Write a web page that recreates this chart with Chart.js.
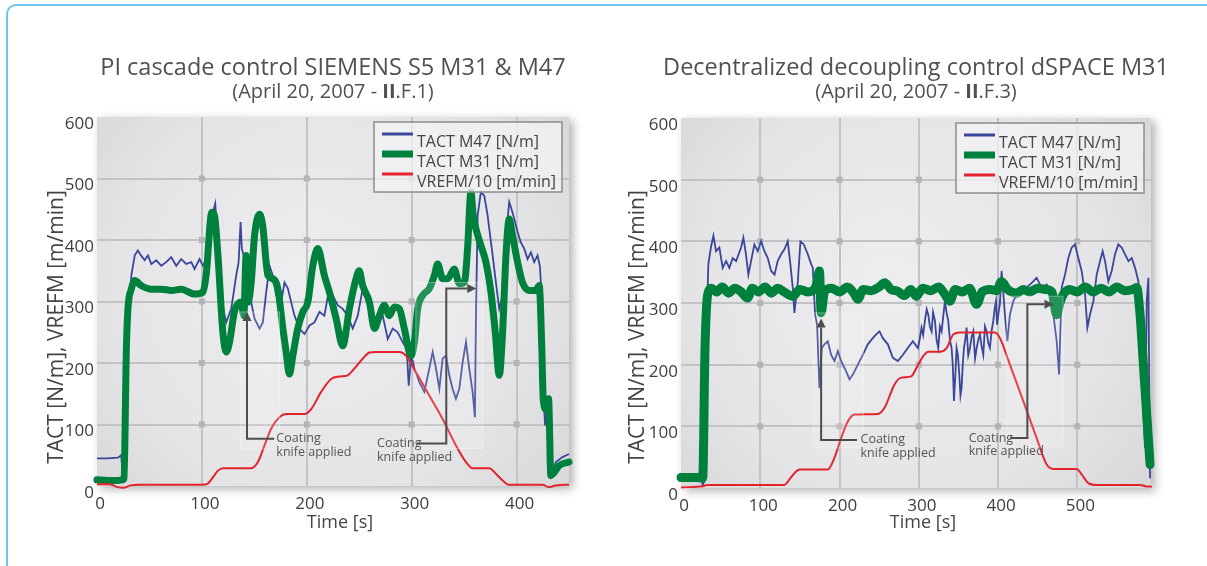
<!DOCTYPE html>
<html>
<head>
<meta charset="utf-8">
<script src="https://cdn.jsdelivr.net/npm/chart.js@4.4.1/dist/chart.umd.min.js"></script>
<style>
  html, body { margin: 0; padding: 0; background: #fff; }
  body { width: 1207px; height: 566px; position: relative; overflow: hidden; }
  #frame { position: absolute; left: 6px; top: 4px; width: 1240px; height: 620px;
           border: 2px solid #6cc8f0; border-radius: 10px; }
  canvas { position: absolute; top: 0; }
  #left { left: 0; }
  #right { left: 600px; }
</style>
</head>
<body>
<div id="frame"></div>
<canvas id="left" width="600" height="566"></canvas>
<canvas id="right" width="607" height="566"></canvas>
<script>
// ---- left chart: PI cascade control (time in s, values in N/m or m/min /10)
const leftM47Time = [0,10,20,23,25,27,29.5,32.7,36,39,42,45.4,48.6,51.8,56.5,61.3,66,70.8,75.6,80.3,85.1,89.9,93,97.8,101,104.2,109,112.7,115.3,119,123.2,128,132.7,135,136.9,138.1,140.7,143.8,147,150.2,155,158.1,161.3,164.5,167.6,170.8,175.6,178.8,182,185.1,188.3,193,197.8,202.6,207.3,212.1,216.8,221.6,224.8,229.5,234.3,239,243.8,248.6,253.3,258.1,262.9,267.6,272.4,277.2,281.9,286.7,291.4,295.3,297.2,299.4,302.6,307.3,312.1,316.8,320,323.2,326.4,329.5,332.7,335.9,339,342.2,345.4,348.6,351.8,354.9,358.1,360.3,361.3,362.9,366,369.2,372.4,377.2,380.3,383.5,386.7,389.9,393,395.6,397.8,401,404.1,407.3,410.5,413.7,416.8,420,422.2,423.2,424.8,427.3,429.5,432.7,437.5,443.8,450];
const leftM47 = [45,45,46,50,12,15,223,342,375,383,375,367,375,361,367,358,364,372,358,369,361,364,353,369,358,369,434,459,396,299,266,288,342,364,429,386,369,310,299,272,256,266,315,358,342,310,299,331,321,299,277,256,247,261,266,283,277,323,310,294,288,277,256,277,321,310,277,261,277,239,256,250,234,223,163,212,191,169,153,191,218,191,158,207,212,180,158,142,158,201,234,191,153,112,277,440,478,472,440,375,331,288,310,407,462,448,434,413,396,386,369,380,364,375,358,331,169,98,136,17,39,47,52];

const leftM31Time = [0,10,20,24,25.7,28,29.5,32.7,36,42,52,61.3,71,80.3,93,101,104,109.5,112,115.3,120,123.2,126.4,131,137.5,140,142.2,144,147,150.2,155,158,163,167.6,172.4,177.2,180.3,183.5,186.7,191.4,196.2,201,205.7,210.5,216.8,221.6,228,234.3,240.6,247,250,253.3,259.7,264.5,269.2,274,278.7,283.5,288.3,293,299.4,302.6,305.7,310.5,316.8,321.6,324.8,329.5,334.3,340.6,345.4,350.2,353.3,356.5,358.7,361.3,366,370.8,375.6,379.7,383.5,386.7,389.9,393,396.2,401,405.7,412,418.4,421.6,424.1,425.4,428,430.5,432.7,435.9,440.6,450];
const leftM31 = [10,9,9,10,12,223,288,320,334,326,320,320,318,320,312,315,342,445,440,375,250,218,234,283,299,277,375,299,331,407,442,423,342,337,321,256,218,182,212,256,283,299,358,386,342,315,272,228,288,337,350,326,299,256,277,294,277,291,288,256,212,234,288,310,321,342,361,337,337,353,329,331,386,478,440,418,391,364,315,250,180,250,375,434,407,364,331,318,318,326,223,142,125,142,17,22,33,39];

const leftVrefTime = [0,12,18,25,32,40,100,105.7,110.5,115.3,120,147,153.4,159.7,166,174,180.3,197.8,204.2,213.7,223.2,231.2,239,245.4,253.3,259.7,266,288.3,294.6,304.1,316.8,329.5,342.2,351.8,358.1,374,380.3,386.7,393,424.8,431.1,437.5,450];
const leftVref = [3,3,-1,-3,1,2,2,4,14,25,29,29,39,66,93,112,117,117,125,153,174,178,180,191,207,217,218,218,212,185,147,109,66,39,29,29,20,9,2,2,-2,1,2];

// ---- right chart: decentralized decoupling control
const rightM47Time = [0,20,26,27.4,29,31.6,34.5,38,40.9,44.2,48.4,52.6,56.9,61,65.3,69.5,75.8,78.7,82,85,88.4,92.6,96.8,101,105.3,109.5,113.7,118,122,126.3,130.5,134.7,138,141,143.1,147.4,150.7,155,160,164.2,166.3,169.2,171.7,174.7,177.6,181,185.2,189.4,193.6,197.9,202,208.4,212.6,216.8,223.1,229.4,235.7,242,246.2,250.5,254.7,261,267.3,273.6,280,286.2,292.5,298.9,301,303.5,305.5,307.7,310,312,314,316.2,318,320.4,322.5,324.6,326.7,328.8,331,333,335,337.2,339.3,341.4,342.9,344.4,346,347.7,349.4,351.1,352.6,354,355.5,357,358.6,360.3,362.4,364.6,366.7,368.8,371,373,375.1,377.2,379.3,381.4,383.5,385.6,387.7,389.8,391.9,394,395.7,397.4,398.8,400.3,402.4,404.5,408.7,411.7,415,419.3,423.5,429.8,436.1,444.5,448.7,455,461.4,465.6,469.8,474,477,480.3,484.5,488.7,493,497.1,501.3,505.5,509.8,512.7,516,520.3,524.5,528.7,532,535,539.2,543.4,547.6,551.8,556,560.3,564.5,568.7,572.9,577.1,580,583.4,585.5,587.6,589.7,591.8];
const rightM47 = [16,16,14,5,10,227,363,392,409,384,390,357,368,357,373,368,390,406,379,346,368,395,384,400,384,373,352,346,368,379,387,400,363,325,284,335,400,395,379,363,357,281,265,162,227,233,238,216,206,222,206,189,176,184,200,216,233,243,249,254,243,233,211,206,216,227,238,227,240,260,248,271,290,281,262,254,285,271,240,227,262,254,280,303,285,271,240,227,200,141,180,227,215,184,150,162,200,227,240,260,215,227,245,254,210,227,240,249,230,216,262,254,235,227,255,271,290,303,265,281,300,352,281,238,281,303,314,319,325,335,341,325,330,314,281,238,184,325,346,373,390,395,373,352,314,260,281,303,346,368,384,368,335,352,379,395,390,379,368,373,357,335,227,119,65,303,341,16];

const rightM31Time = [0,10,20,26,27.4,30.3,33.7,38,45,52,60,68,76,84,90,98,106,114,122,130,141,150,160,168,172,174.7,176.8,181,190,200,210,218,223,230,240,250,257,265,273.6,282,290,297,305,315,325,332,339.3,346,355,364,373,380,390,398,404.5,412,423.5,432,440,450,460,468,474,478,482.4,490,500,510,520,530,540,550,560,570,575,579.2,583.4,587.6,591.8];
const rightM31 = [17,17,17,16,16,227,314,324,318,326,316,324,318,308,324,318,326,316,324,318,311,322,318,322,335,352,284,319,324,318,326,316,306,322,320,326,333,322,319,312,322,311,324,320,326,316,303,322,318,324,298,318,322,320,335,322,316,322,318,324,322,318,281,300,314,322,318,326,318,324,318,326,320,322,325,281,200,119,38];

const rightVrefTime = [0,27.4,33.7,130.5,136.8,143.1,149.5,185.2,193.6,202,210.5,218.9,248.4,256.8,269.4,277.8,290.4,297.2,305.6,311.9,326.7,335.1,343.5,351.9,396.1,402.4,415,431.9,448.7,461.4,469.8,499.2,505.5,514,524.5,579.2,585.5,594];
const rightVref = [1,3,5,5,14,24,30,30,49,81,108,119,120,130,168,179,181,195,214,221,221,227,249,252,252,243,200,141,81,38,31,31,22,8,5,5,3,2];

const yTicks = [0, 100, 200, 300, 400, 500, 600];
const leftXTicks = [0, 100, 200, 300, 400];
const rightXTicks = [0, 100, 200, 300, 400, 500];
const seriesLabels = ['TACT M47 [N/m]', 'TACT M31 [N/m]', 'VREFM/10 [m/min]'];
const xTitle = 'Time [s]';
const yTitle = 'TACT [N/m], VREFM [m/min]';

const pairs = (xs, ys) => xs.map((x, i) => ({ x: x, y: ys[i] }));

// arrow + text callouts, in data units
const leftNotes = [
  { text: ['Coating', 'knife applied'], at: [171, 77], path: [[169, 77], [143, 77], [143, 283]], box: [137, 60, 174, 283] },
  { text: ['Coating', 'knife applied'], at: [267, 69], path: [[305, 69], [333, 69], [333, 321], [361.6, 321]], box: [304, 61, 368, 331] }
];
const rightNotes = [
  { text: ['Coating', 'knife applied'], at: [226.5, 78], path: [[222, 78], [176.8, 78], [176.8, 275]], box: [167, 65, 230, 284] },
  { text: ['Coating', 'knife applied'], at: [363, 81], path: [[415, 81], [437, 81], [437, 298], [470, 298]], box: [411, 67, 482, 311] }
];

const FONT = "'Open Sans', 'Noto Sans', sans-serif";

const decor = {
  id: 'decor',
  beforeDraw(chart) {
    const { ctx, chartArea: a } = chart;
    const cx = (a.left + a.right) / 2, cy = (a.top + a.bottom) / 2;
    ctx.save();
    const g = ctx.createRadialGradient(cx - 30, cy - 20, 10, cx, cy, a.width * 0.75);
    g.addColorStop(0, '#ededef');
    g.addColorStop(0.55, '#e5e5e7');
    g.addColorStop(1, '#d2d2d5');
    ctx.shadowColor = 'rgba(0,0,0,0.3)';
    ctx.shadowBlur = 9;
    ctx.shadowOffsetX = 4;
    ctx.shadowOffsetY = 3;
    ctx.fillStyle = g;
    ctx.fillRect(a.left, a.top, a.width, a.height);
    ctx.restore();
  },
  beforeDatasetsDraw(chart) {
    // little squares where the grid lines cross
    const { ctx, scales } = chart;
    ctx.save();
    ctx.fillStyle = '#b4b4b7';
    scales.x.ticks.forEach(tx => {
      if (tx.value <= 0) return;
      scales.y.ticks.forEach(ty => {
        if (ty.value <= 0 || ty.value >= 600) return;
        const px = scales.x.getPixelForValue(tx.value), py = scales.y.getPixelForValue(ty.value);
        ctx.fillRect(px - 3, py - 3, 6, 6);
      });
    });
    ctx.restore();
  },
  afterDatasetsDraw(chart, args, o) {
    const { ctx, scales: { x, y } } = chart;
    ctx.save();
    (o.notes || []).forEach(n => {
      const bx0 = x.getPixelForValue(n.box[0]), by0 = y.getPixelForValue(n.box[3]);
      const bx1 = x.getPixelForValue(n.box[2]), by1 = y.getPixelForValue(n.box[1]);
      ctx.fillStyle = 'rgba(255,255,255,0.14)';
      ctx.fillRect(bx0, by0, bx1 - bx0, by1 - by0);
      ctx.strokeStyle = 'rgba(255,255,255,0.35)';
      ctx.lineWidth = 1;
      ctx.strokeRect(bx0, by0, bx1 - bx0, by1 - by0);

      const pts = n.path.map(p => [x.getPixelForValue(p[0]), y.getPixelForValue(p[1])]);
      const tip = pts[pts.length - 1], prev = pts[pts.length - 2];
      const ang = Math.atan2(tip[1] - prev[1], tip[0] - prev[0]);
      const head = 9;
      ctx.strokeStyle = '#4d4d50';
      ctx.fillStyle = '#4d4d50';
      ctx.lineWidth = 2;
      ctx.beginPath();
      ctx.moveTo(pts[0][0], pts[0][1]);
      for (let i = 1; i < pts.length - 1; i++) ctx.lineTo(pts[i][0], pts[i][1]);
      ctx.lineTo(tip[0] - Math.cos(ang) * head, tip[1] - Math.sin(ang) * head);
      ctx.stroke();
      ctx.beginPath();
      ctx.moveTo(tip[0], tip[1]);
      ctx.lineTo(tip[0] - Math.cos(ang) * head - Math.sin(ang) * 4.5, tip[1] - Math.sin(ang) * head + Math.cos(ang) * 4.5);
      ctx.lineTo(tip[0] - Math.cos(ang) * head + Math.sin(ang) * 4.5, tip[1] - Math.sin(ang) * head - Math.cos(ang) * 4.5);
      ctx.closePath();
      ctx.fill();

      ctx.fillStyle = '#555';
      ctx.font = '12.5px ' + FONT;
      ctx.textAlign = 'left';
      ctx.textBaseline = 'middle';
      const tx = x.getPixelForValue(n.at[0]), ty = y.getPixelForValue(n.at[1]);
      n.text.forEach((line, i) => ctx.fillText(line, tx, ty + i * 13.5));
    });
    ctx.restore();
  },
  afterDraw(chart, args, o) {
    const { ctx, chartArea: a } = chart;
    const cx = (a.left + a.right) / 2;
    ctx.save();
    // title
    ctx.fillStyle = '#505052';
    ctx.textAlign = 'center';
    ctx.textBaseline = 'alphabetic';
    ctx.font = '23.5px ' + FONT;
    ctx.fillText(o.title, cx, 75);
    // subtitle, with the bold run
    ctx.textAlign = 'left';
    const fonts = o.subtitle.map(p => (p[1] ? 'bold ' : '') + '20px ' + FONT);
    let total = 0;
    o.subtitle.forEach((p, i) => { ctx.font = fonts[i]; total += ctx.measureText(p[0]).width; });
    let sx = cx - total / 2;
    o.subtitle.forEach((p, i) => { ctx.font = fonts[i]; ctx.fillText(p[0], sx, 98); sx += ctx.measureText(p[0]).width; });

    // axis titles
    ctx.fillStyle = '#444';
    ctx.textAlign = 'center';
    ctx.textBaseline = 'middle';
    ctx.font = '18px ' + FONT;
    ctx.fillText(xTitle, cx + 7, 523);
    ctx.save();
    ctx.translate(a.left - o.yTitleGap, 327);
    ctx.rotate(-Math.PI / 2);
    ctx.font = '21px ' + FONT;
    ctx.fillText(yTitle, 0, 0);
    ctx.restore();

    // legend
    ctx.textAlign = 'left';
    ctx.textBaseline = 'alphabetic';
    const bx = a.right - 195, by = a.top + 5, bw = 188, bh = 70;
    ctx.fillStyle = 'rgba(243,243,245,0.75)';
    ctx.fillRect(bx, by, bw, bh);
    ctx.strokeStyle = '#8c8c8f';
    ctx.lineWidth = 1.5;
    ctx.strokeRect(bx, by, bw, bh);
    chart.data.datasets.forEach((ds, i) => {
      const ly = by + 12 + i * 20;
      ctx.strokeStyle = ds.borderColor;
      ctx.lineWidth = i === 1 ? 7 : 3;
      ctx.beginPath();
      ctx.moveTo(bx + 8, ly);
      ctx.lineTo(bx + 39, ly);
      ctx.stroke();
      ctx.fillStyle = '#444';
      ctx.font = '16px ' + FONT;
      ctx.fillText(ds.label, bx + 43, ly + 13);
    });
    ctx.restore();
  }
};

function makeChart(id, opts) {
  const gridColor = c => (c.tick && (c.tick.value === 0 || c.tick.value === 600)) ? 'rgba(0,0,0,0)' : '#c3c3c6';
  return new Chart(document.getElementById(id).getContext('2d'), {
    type: 'line',
    data: {
      datasets: [
        { label: seriesLabels[0], data: opts.m47, borderColor: '#3a4699', borderWidth: 1.8,
          pointRadius: 0, tension: 0, order: 2, clip: 8 },
        { label: seriesLabels[1], data: opts.m31, borderColor: '#00803d', borderWidth: opts.greenWidth,
          pointRadius: 0, cubicInterpolationMode: 'monotone', borderJoinStyle: 'round', borderCapStyle: 'round', order: 1, clip: 8 },
        { label: seriesLabels[2], data: opts.vref, borderColor: '#e3222b', borderWidth: 2,
          pointRadius: 0, cubicInterpolationMode: 'monotone', order: 0, clip: 8 }
      ]
    },
    options: {
      responsive: false,
      animation: false,
      layout: { padding: { top: opts.top, right: opts.right, bottom: 0, left: 0 } },
      scales: {
        x: {
          type: 'linear', min: 0, max: opts.xMax,
          afterFit: s => { s.height = opts.xHeight; },
          afterBuildTicks: s => { s.ticks = opts.xTicks.map(v => ({ value: v })); },
          ticks: { autoSkip: false, maxRotation: 0, padding: 8, labelOffset: 3,
                   color: '#3d3d3f', font: { family: FONT, size: 17 } },
          grid: { color: gridColor, lineWidth: 2, drawTicks: false },
          border: { display: false }
        },
        y: {
          min: 0, max: 600,
          afterFit: s => { s.width = opts.yWidth; },
          afterBuildTicks: s => { s.ticks = yTicks.map(v => ({ value: v })); },
          ticks: { padding: 3, labelOffset: 7, color: '#3d3d3f', font: { family: FONT, size: 17 } },
          grid: { color: gridColor, lineWidth: 2, drawTicks: false },
          border: { display: false }
        }
      },
      plugins: {
        legend: { display: false },
        tooltip: { enabled: false },
        decor: { title: opts.title, subtitle: opts.subtitle, notes: opts.notes, yTitleGap: opts.yTitleGap }
      }
    },
    plugins: [decor]
  });
}

makeChart('left', {
  m47: pairs(leftM47Time, leftM47),
  m31: pairs(leftM31Time, leftM31),
  vref: pairs(leftVrefTime, leftVref),
  greenWidth: 7,
  xMax: 450, xTicks: leftXTicks,
  top: 117, right: 31, yWidth: 97, xHeight: 80, yTitleGap: 40,
  title: 'PI cascade control SIEMENS S5 M31 & M47',
  subtitle: [['(April 20, 2007 - ', false], ['II', true], ['.F.1)', false]],
  notes: leftNotes
});

makeChart('right', {
  m47: pairs(rightM47Time, rightM47),
  m31: pairs(rightM31Time, rightM31),
  vref: pairs(rightVrefTime, rightVref),
  greenWidth: 9,
  xMax: 593, xTicks: rightXTicks,
  top: 118, right: 56, yWidth: 81, xHeight: 78, yTitleGap: 43,
  title: 'Decentralized decoupling control dSPACE M31',
  subtitle: [['(April 20, 2007 - ', false], ['II', true], ['.F.3)', false]],
  notes: rightNotes
});
</script>
</body>
</html>
